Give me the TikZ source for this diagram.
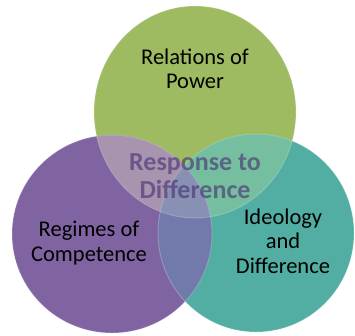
\documentclass[tikz,border=0pt]{standalone}
\usepackage{fontspec}
\setmainfont{Carlito}
\usepackage{tikz}

\definecolor{powergreen}{RGB}{158,187,98}
\definecolor{regimepurple}{RGB}{128,100,162}
\definecolor{ideoteal}{RGB}{82,174,162}
\definecolor{gpmix}{RGB}{168,148,174}
\definecolor{gtmix}{RGB}{118,190,160}
\definecolor{ptmix}{RGB}{114,122,172}
\definecolor{allmix}{RGB}{136,144,180}
\definecolor{responsetext}{RGB}{78,58,118}

\begin{document}
\begin{tikzpicture}[x=1pt,y=-1pt,
	label/.style={align=center,text=black,font=\fontsize{22.5}{24.5}\selectfont},
	centre/.style={align=center,text=responsetext,text opacity=0.68,font=\fontsize{26}{28}\selectfont\bfseries},
	rim/.style={draw=white,draw opacity=0.2,line width=1}]
			\useasboundingbox (0,0) rectangle (355,335);
			\def\power{(195,112) ellipse [x radius=101,y radius=106]}
			\def\regimes{(112,234) ellipse [x radius=100,y radius=99]}
			\def\ideology{(256,233) ellipse [x radius=98,y radius=99]}

			% the three sets
			\fill[powergreen] \power;
			\fill[regimepurple] \regimes;
			\fill[ideoteal] \ideology;

			% overlaps
			\begin{scope}
				\clip \power;
				\fill[gpmix] \regimes;
				\fill[gtmix] \ideology;
			\end{scope}
			\begin{scope}
				\clip \regimes;
				\fill[ptmix] \ideology;
				\clip \ideology;
				\fill[allmix] \power;
			\end{scope}

			\draw[rim] \power;
			\draw[rim] \regimes;
			\draw[rim] \ideology;

			\node[label] (power) at (195,69) {Relations of\\Power};
			\node[label] (regimes) at (89,243) {Regimes of\\Competence};
			\node[label] (ideology) at (283,241) {Ideology\\and\\Difference};
			\node[centre] (response) at (195,176) {Response to\\Difference};
		\end{tikzpicture}
\end{document}
